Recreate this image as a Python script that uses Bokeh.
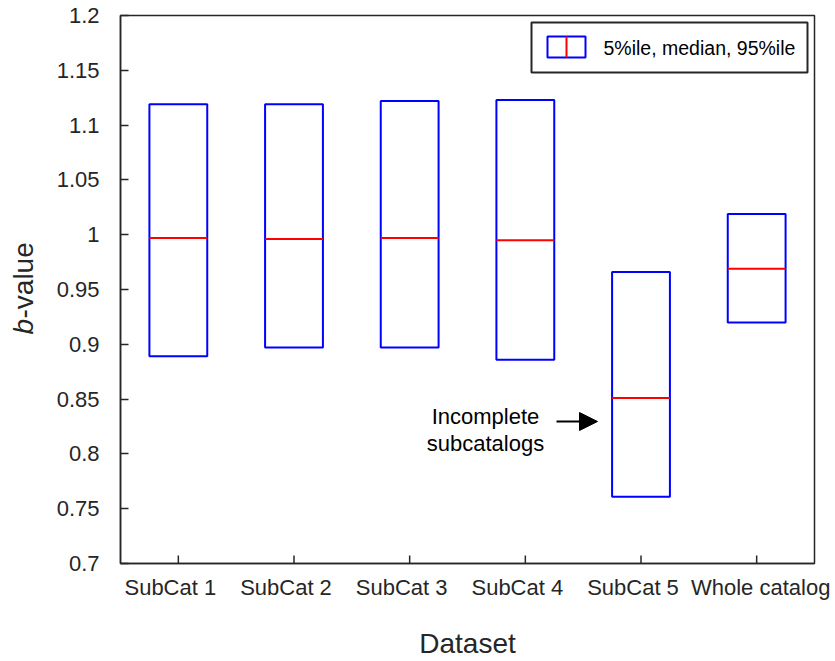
import numpy as np
from bokeh.plotting import figure
from bokeh.layouts import row
from bokeh.models import (Range1d, FixedTicker, CustomJSTickFormatter, Label, Arrow,
                          NormalHead, ColumnDataSource, LinearAxis)
from bokeh.embed import file_html
from bokeh.resources import INLINE

# ---- data ----
datasets = ["SubCat 1", "SubCat 2", "SubCat 3", "SubCat 4", "SubCat 5", "Whole catalog"]
p05 = [0.889, 0.897, 0.897, 0.886, 0.761, 0.920]
median = [0.997, 0.996, 0.997, 0.995, 0.851, 0.969]
p95 = [1.119, 1.119, 1.122, 1.123, 0.966, 1.019]
y_ticks = [0.7, 0.75, 0.8, 0.85, 0.9, 0.95, 1.0, 1.05, 1.1, 1.15, 1.2]

FONT = "Liberation Sans"
TXT = "#262626"

# ---- layout geometry (pixels) ----
W, H = 835, 661
LW = 50                      # width of the side strip holding the y-axis title
FL, FR, FT, FB = 120, 814, 15, 563
XMIN, XMAX = 0.5, len(datasets) + 0.5
YMIN, YMAX = 0.7, 1.2
UNIT = (FR - FL) / (XMAX - XMIN)
YPX = (YMAX - YMIN) / (FB - FT)          # data units per pixel (y)
label_shift_px = [-8, -8, -8, -8, -8, 4]  # horizontal nudge of category labels
TICK_LEN = 8


def px_x(px):
    return XMIN + (px - FL) / UNIT


def px_y(py):
    return YMAX - (py - FT) * YPX


# side strip for the y-axis title
side = figure(width=LW, height=H, output_backend="svg", toolbar_location=None,
              x_range=Range1d(0, LW), y_range=Range1d(YMIN, YMAX),
              x_axis_location=None, y_axis_location=None,
              min_border_left=0, min_border_right=0,
              min_border_top=FT, min_border_bottom=H - FB,
              outline_line_color=None)
side.grid.visible = False
side.background_fill_color = "white"
side.border_fill_color = "white"
side.add_layout(Label(x=23, y=px_y(334), text="b", angle=np.pi / 2,
                      text_font=FONT, text_font_size="28px", text_font_style="italic",
                      text_color=TXT, text_align="left", text_baseline="alphabetic"))
side.add_layout(Label(x=23, y=px_y(318), text="-value", angle=np.pi / 2,
                      text_font=FONT, text_font_size="28px",
                      text_color=TXT, text_align="left", text_baseline="alphabetic"))

p = figure(width=W - LW, height=H, output_backend="svg", toolbar_location=None,
           x_range=Range1d(XMIN, XMAX), y_range=Range1d(YMIN, YMAX),
           x_axis_location=None,
           min_border_left=FL - LW, min_border_right=W - FR,
           min_border_top=FT, min_border_bottom=H - FB)
p.grid.visible = False
p.background_fill_color = "white"
p.border_fill_color = "white"
p.outline_line_color = TXT
p.outline_line_width = 1.5

xpos = np.arange(1, len(datasets) + 1)
src = ColumnDataSource(dict(x=xpos, left=xpos - 0.25, right=xpos + 0.25,
                            lo=p05, med=median, hi=p95))
p.quad(left="left", right="right", bottom="lo", top="hi", source=src,
       fill_color=None, line_color="#0000FF", line_width=2)
p.segment(x0="left", x1="right", y0="med", y1="med", source=src,
          line_color="#FF0000", line_width=2)

# inward category tick marks on the bottom frame edge
p.segment(x0=xpos, x1=xpos, y0=[YMIN] * len(xpos), y1=[YMIN + TICK_LEN * YPX] * len(xpos),
          line_color=TXT, line_width=1.5)

# bottom axis: category labels + title
lab_pos = [float(x + s / UNIT) for x, s in zip(xpos, label_shift_px)]
xl = LinearAxis(ticker=FixedTicker(ticks=lab_pos),
                formatter=CustomJSTickFormatter(args=dict(names=datasets),
                                                code="return names[index];"),
                axis_line_color=TXT, axis_line_width=1.5,
                major_tick_line_color=None, major_tick_in=0, major_tick_out=0,
                minor_tick_line_color=None,
                major_label_text_font=FONT, major_label_text_font_size="22px",
                major_label_text_color=TXT, major_label_standoff=11,
                axis_label="Dataset", axis_label_text_font=FONT,
                axis_label_text_font_style="normal", axis_label_text_font_size="28px",
                axis_label_text_color=TXT, axis_label_standoff=25)
p.add_layout(xl, "below")

ya = p.yaxis[0]
ya.axis_line_color = TXT
ya.axis_line_width = 1.5
ya.major_tick_line_color = TXT
ya.major_tick_line_width = 1.5
ya.major_tick_in = TICK_LEN
ya.major_tick_out = 0
ya.minor_tick_line_color = None
ya.major_label_text_font = FONT
ya.major_label_text_font_size = "22px"
ya.major_label_text_color = TXT
ya.ticker = FixedTicker(ticks=y_ticks)
ya.formatter = CustomJSTickFormatter(code="return Number(tick.toFixed(2)).toString();")
ya.major_label_standoff = 21

# annotation
p.add_layout(Label(x=px_x(485), y=px_y(416), text="Incomplete", text_font=FONT,
                   text_font_size="22px", text_color="black",
                   text_align="center", text_baseline="alphabetic"))
p.add_layout(Label(x=px_x(485), y=px_y(443), text="subcatalogs", text_font=FONT,
                   text_font_size="22px", text_color="black",
                   text_align="center", text_baseline="alphabetic"))
p.add_layout(Arrow(end=NormalHead(size=18, fill_color="black", line_color="black"),
                   x_start=px_x(556), y_start=px_y(421), x_end=px_x(597), y_end=px_y(421),
                   line_color="black", line_width=2))

# legend (drawn manually)
p.quad(left=[px_x(531)], right=[px_x(807)], top=[px_y(22)], bottom=[px_y(72)],
       fill_color="white", line_color=TXT, line_width=2)
p.quad(left=[px_x(547)], right=[px_x(585)], top=[px_y(36)], bottom=[px_y(57)],
       fill_color="white", line_color="#0000FF", line_width=2)
p.segment(x0=[px_x(566)], x1=[px_x(566)], y0=[px_y(36)], y1=[px_y(57)],
          line_color="#FF0000", line_width=2)
p.add_layout(Label(x=px_x(603), y=px_y(47), text="5%ile, median, 95%ile", text_font=FONT,
                   text_font_size="19.5px", text_color="black",
                   text_align="left", text_baseline="middle"))

layout = row(side, p, spacing=0)
open("out.html", "w").write(file_html(layout, INLINE))
